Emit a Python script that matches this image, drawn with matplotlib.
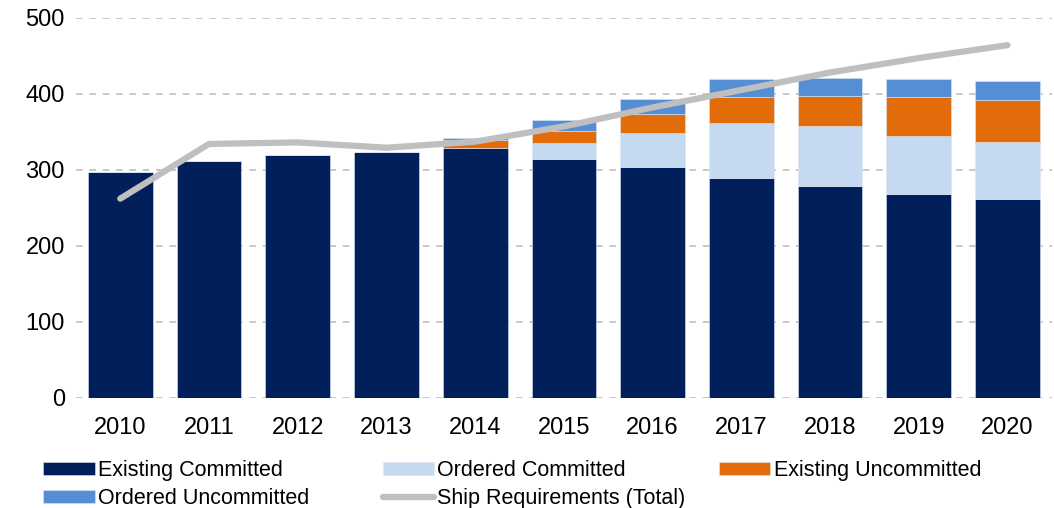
import matplotlib
matplotlib.use("Agg")
from matplotlib import pyplot as plt
import numpy as np

plt.rcParams['font.family'] = ['Liberation Sans', 'DejaVu Sans']

years = ['2010', '2011', '2012', '2013', '2014', '2015', '2016', '2017', '2018', '2019', '2020']
existing_committed = [297, 312, 320, 323, 329, 314, 303, 289, 279, 268, 261]
ordered_committed = [0, 0, 0, 0, 0, 21, 46, 73, 78, 76, 76]
existing_uncommitted = [0, 0, 0, 1, 10, 16, 25, 34, 40, 52, 55]
ordered_uncommitted = [0, 0, 0, 0, 3, 15, 19, 24, 24, 24, 25]
ship_requirements = [262, 334, 336, 329, 337, 357, 382, 405, 428, 447, 464]

colors = ['#001F5B', '#C5D9F1', '#E26B0A', '#558ED5']
names = ['Existing Committed', 'Ordered Committed', 'Existing Uncommitted', 'Ordered Uncommitted']

fig = plt.figure(figsize=(10.54, 5.08), dpi=100)
ax = fig.add_axes([0.072, 0.217, 0.926, 0.748])

x = np.arange(len(years))
bottom = np.zeros(len(years))
handles = []
for vals, c, n in zip([existing_committed, ordered_committed, existing_uncommitted, ordered_uncommitted],
                      colors, names):
    vals = np.array(vals, dtype=float)
    b = ax.bar(x, vals, 0.73, bottom=bottom, color=c, edgecolor='#DCE6F2', linewidth=0.4,
               label=n, zorder=2)
    handles.append(b)
    bottom += vals

line, = ax.plot(x, ship_requirements, color='#BFBFBF', linewidth=4.5, solid_capstyle='round',
                solid_joinstyle='round', label='Ship Requirements (Total)', zorder=3)

ax.set_xlim(-0.5, 10.5)
ax.set_ylim(0, 500)
ax.set_yticks(range(0, 501, 100))
ax.set_xticks(x)
ax.set_xticklabels(years)
ax.tick_params(axis='both', length=0, labelsize=17, colors='black')
ax.tick_params(axis='x', pad=14)
ax.tick_params(axis='y', pad=8)
ax.yaxis.grid(True, linestyle=(0, (4, 4)), color='#BFBFBF', linewidth=1.2, zorder=0)
ax.set_axisbelow(True)
for s in ax.spines.values():
    s.set_visible(False)

# legend laid out row-wise in three fixed columns
columns = [
    ([handles[0], handles[3]], [names[0], names[3]], 0.041),
    ([handles[1], line], [names[1], 'Ship Requirements (Total)'], 0.363),
    ([handles[2]], [names[2]], 0.682),
]
for h, l, xpos in columns:
    fig.legend(h, l, loc='upper left', bbox_to_anchor=(xpos, 0.094), frameon=False,
               fontsize=15.5, handlelength=2.4, handleheight=0.55, handletextpad=0.15,
               labelspacing=0.32, borderaxespad=0.0, borderpad=0.0)

fig.savefig('out.png', dpi=100)
